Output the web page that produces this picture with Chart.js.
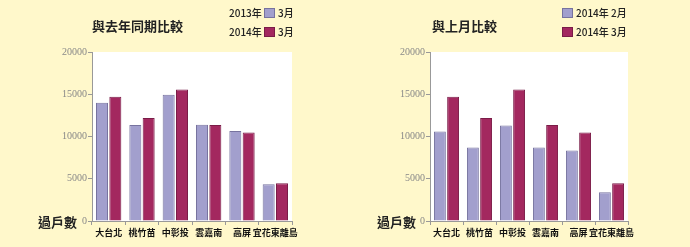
<!DOCTYPE html>
<html>
<head>
<meta charset="utf-8">
<script src="https://cdn.jsdelivr.net/npm/chart.js@4"></script>
<style>
  html, body { margin: 0; padding: 0; background: #fff8cb; }
  body { width: 690px; height: 247px; position: relative; overflow: hidden; font-family: "Noto Sans CJK TC", sans-serif; }
  .box { position: absolute; top: 0; width: 345px; height: 247px; }
  .t { position: absolute; white-space: nowrap; color: #222; }
  .title { font-size: 13px; font-weight: bold; line-height: 16px; }
  .leg { font-size: 10px; line-height: 12px; font-weight: 500; }
  .sw { position: absolute; width: 11px; height: 10px; box-sizing: border-box; }
  .unit { font-size: 13px; font-weight: bold; line-height: 16px; }
</style>
</head>
<body>
<div class="box" style="left:0"><canvas id="left"></canvas></div>
<div class="box" style="left:345px"><canvas id="right"></canvas></div>

<div class="t title" style="left:92px;top:18px">與去年同期比較</div>
<div class="t leg" style="left:229px;top:7px">2013年</div>
<div class="sw" style="left:264px;top:8px;background:#a29fcd;border:1px solid #77739f"></div>
<div class="t leg" style="left:278px;top:7px">3月</div>
<div class="t leg" style="left:229px;top:26px">2014年</div>
<div class="sw" style="left:264px;top:27px;background:#a3285f;border:1px solid #7a1c47"></div>
<div class="t leg" style="left:278px;top:26px">3月</div>
<div class="t unit" style="left:38px;top:214px">過戶數</div>

<div class="t title" style="left:432px;top:18px">與上月比較</div>
<div class="sw" style="left:562px;top:8px;background:#a29fcd;border:1px solid #77739f"></div>
<div class="t leg" style="left:576px;top:7px">2014年 2月</div>
<div class="sw" style="left:562px;top:27px;background:#a3285f;border:1px solid #7a1c47"></div>
<div class="t leg" style="left:576px;top:26px">2014年 3月</div>
<div class="t unit" style="left:377px;top:214px">過戶數</div>

<script>
const regions = ['大台北', '桃竹苗', '中彰投', '雲嘉南', '高屏', '宜花東離島'];
const mar2013 = [14000, 11350, 14950, 11400, 10650, 4350];
const mar2014 = [14700, 12200, 15550, 11350, 10480, 4470];
const feb2014 = [10600, 8700, 11300, 8700, 8350, 3400];
const yTicks = [0, 5000, 10000, 15000, 20000];

const lavender = '#a29fcd';
const magenta = '#a3285f';

const plotBg = {
  id: 'plotBg',
  beforeDraw(chart) {
    const a = chart.chartArea;
    const ctx = chart.ctx;
    ctx.save();
    ctx.fillStyle = '#ffffff';
    ctx.fillRect(a.left, a.top, a.right - a.left, a.bottom - a.top);
    ctx.restore();
  }
};

function makeChart(id, first, second, axisWidth, padRight) {
  return new Chart(document.getElementById(id), {
    type: 'bar',
    data: {
      labels: regions,
      datasets: [
        { data: first, backgroundColor: lavender, borderColor: '#77739f', borderWidth: 1 },
        { data: second, backgroundColor: magenta, borderColor: '#7a1c47', borderWidth: 1 }
      ]
    },
    options: {
      responsive: true,
      maintainAspectRatio: false,
      animation: false,
      layout: { padding: { left: 0, right: padRight, top: 52, bottom: 0 } },
      plugins: { legend: { display: false }, tooltip: { enabled: false } },
      datasets: { bar: { categoryPercentage: 0.8, barPercentage: 0.9 } },
      scales: {
        x: {
          grid: { drawOnChartArea: false, tickLength: 4, color: '#999' },
          border: { color: '#999' },
          ticks: { color: '#111', padding: 2, maxRotation: 0, autoSkip: false,
                   font: { family: '"Noto Sans CJK TC"', size: 9, weight: 'bold' } },
          afterFit(s) { s.height = 26; }
        },
        y: {
          min: 0, max: 20000,
          afterBuildTicks(s) { s.ticks = yTicks.map(v => ({ value: v })); },
          grid: { drawOnChartArea: false, tickLength: 4, color: '#999' },
          border: { color: '#999' },
          ticks: { color: '#888', padding: 1, callback: v => String(v),
                   font: { family: '"Liberation Serif"', size: 10 } },
          afterFit(s) { s.width = axisWidth; }
        }
      }
    },
    plugins: [plotBg]
  });
}

makeChart('left', mar2013, mar2014, 92, 53);
makeChart('right', feb2014, mar2014, 85, 62);
</script>
</body>
</html>
